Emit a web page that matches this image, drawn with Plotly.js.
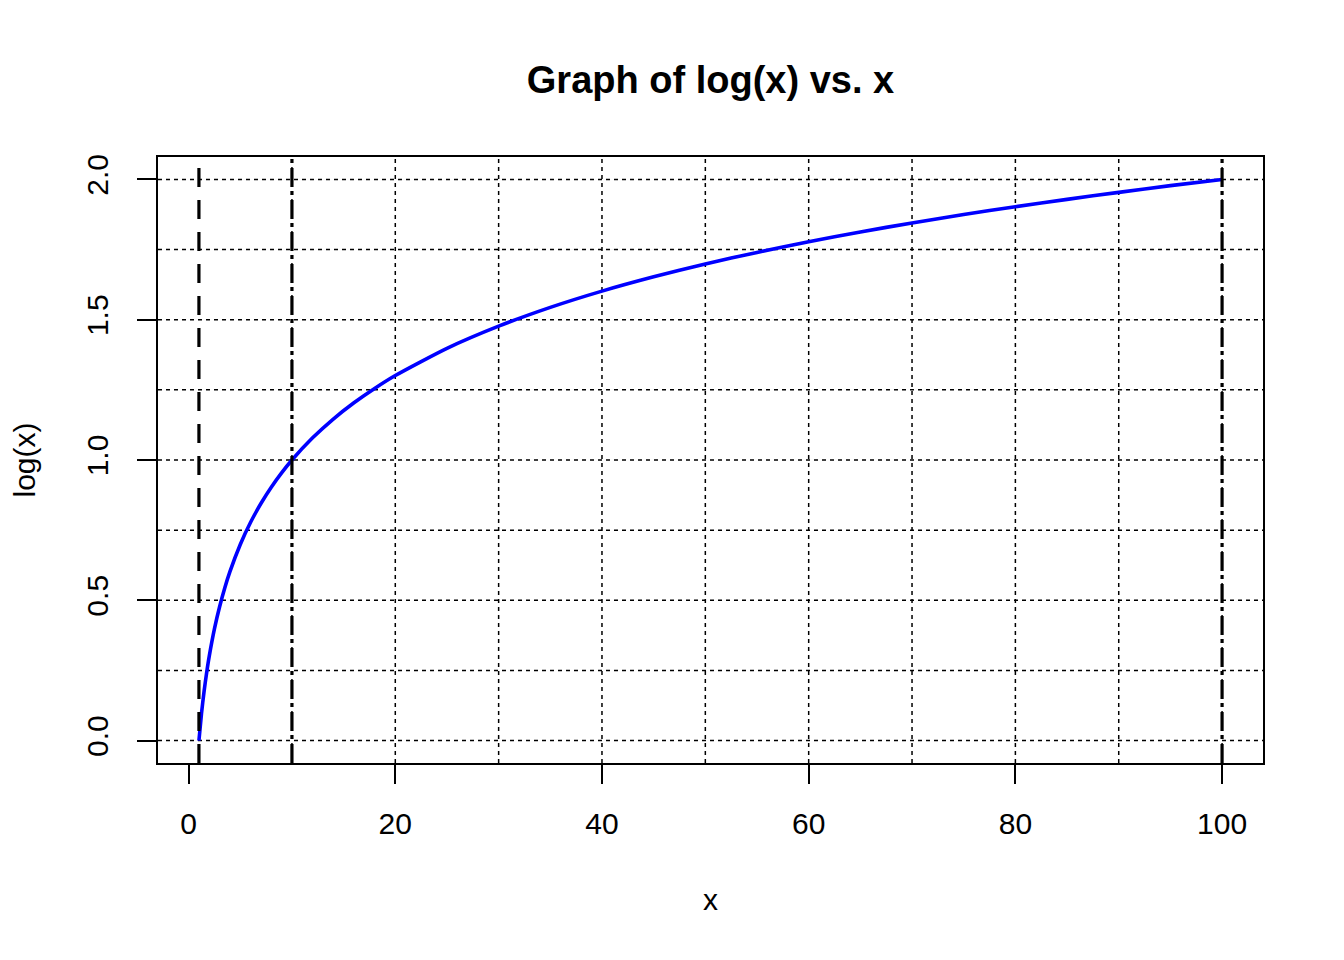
<!DOCTYPE html>
<html>
<head>
<meta charset="utf-8">
<script src="https://cdn.plot.ly/plotly-3.0.1.min.js"></script>
<style>html,body{margin:0;padding:0;background:#fff}#chart{width:1344px;height:960px}</style>
</head>
<body>
<div id="chart"></div>
<script>
// values
const xValues = [1,1.25,1.5,1.75,2,2.5,3,3.5,4,5,6,7,8,9,10,12,14,16,18,20,25,30,35,40,45,50,55,60,65,70,75,80,85,90,95,100];
const yValues = [0,0.097,0.176,0.243,0.301,0.398,0.477,0.544,0.602,0.699,0.778,0.845,0.903,0.954,1.000,1.079,1.146,1.204,1.255,1.301,1.398,1.477,1.544,1.602,1.653,1.699,1.740,1.778,1.813,1.845,1.875,1.903,1.929,1.954,1.978,2.000];
const gridX = [10,20,30,40,50,60,70,80,90,100];
const gridY = [0,0.25,0.5,0.75,1,1.25,1.5,1.75,2];
const refLinesX = [1,10,100];
const xTicks = [0,20,40,60,80,100];
const yTicks = [0,0.5,1,1.5,2];

const refDash = ['19px,13px','19px,5px,4px,4px','19px,5px,4px,4px'];
const dotDash = '4px,4px';

const shapes = [];
gridY.forEach(v => shapes.push({type:'line', xref:'paper', yref:'y', x0:0, x1:1, y0:v, y1:v,
  line:{color:'#000', width:1.5, dash:dotDash}, layer:'below'}));
gridX.forEach(v => shapes.push({type:'line', xref:'x', yref:'paper', x0:v, x1:v, y0:0, y1:1,
  line:{color:'#000', width:1.5, dash:dotDash}, layer:'below'}));
refLinesX.forEach((v,i) => shapes.push({type:'line', xref:'x', yref:'paper', x0:v, x1:v, y0:0, y1:1,
  line:{color:'#000', width:3.2, dash:refDash[i]}}));

const trace = {x:xValues, y:yValues, type:'scatter', mode:'lines',
  line:{color:'#0000FF', width:3.6, shape:'spline', smoothing:0.6}, hoverinfo:'skip'};

const fam = 'Liberation Sans, Arial, Helvetica, sans-serif';

const layout = {
  width:1344, height:960,
  margin:{l:158, r:81, t:157, b:197, pad:0},
  paper_bgcolor:'#fff', plot_bgcolor:'#fff',
  showlegend:false,
  font:{family:fam, color:'#000'},
  title:{text:'<b>Graph of log(x) vs. x</b>', font:{family:fam, size:38, color:'#000'},
    x:0.5, xanchor:'center', xref:'paper', y:1-80/960, yanchor:'middle', yref:'container'},
  xaxis:{range:[-2.96,103.96], tickvals:xTicks, ticktext:xTicks.map(String),
    ticks:'outside', ticklen:19, tickwidth:2, tickcolor:'#000',
    showgrid:false, zeroline:false, showline:true, linecolor:'#000', linewidth:2, mirror:true,
    tickfont:{family:fam, size:30, color:'#000'}, ticklabelstandoff:14,
    title:{text:'x', font:{family:fam, size:30, color:'#000'}, standoff:50}},
  yaxis:{range:[-0.08,2.08], tickvals:yTicks, ticktext:yTicks.map(v=>v.toFixed(1)),
    ticks:'outside', ticklen:19, tickwidth:2, tickcolor:'#000', tickangle:-90,
    showgrid:false, zeroline:false, showline:true, linecolor:'#000', linewidth:2, mirror:true,
    tickfont:{family:fam, size:30, color:'#000'}, ticklabelstandoff:17,
    title:{text:'log(x)', font:{family:fam, size:30, color:'#000'}, standoff:37}},
  shapes:shapes
};

Plotly.newPlot('chart', [trace], layout, {displayModeBar:false, staticPlot:true});
</script>
</body>
</html>
